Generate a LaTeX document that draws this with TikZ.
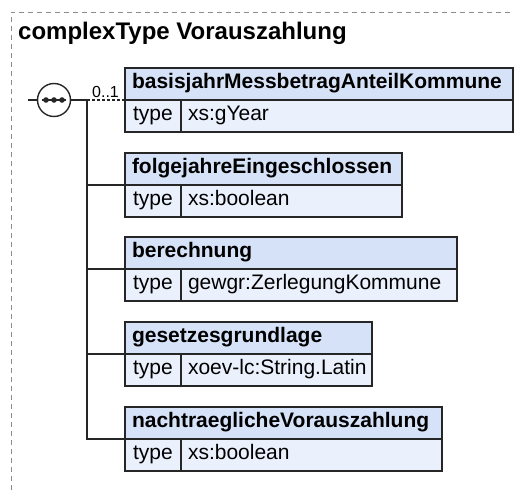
\documentclass[tikz,border=0pt]{standalone}
\usepackage{fontspec}
\setmainfont{Liberation Sans}
\usetikzlibrary{positioning}
\definecolor{headblue}{RGB}{214,226,248}
\definecolor{rowblue}{RGB}{234,240,252}
\tikzstyle{cell}=[draw=black!85,line width=1.4pt,minimum height=32pt,text height=14pt,text depth=5pt,inner xsep=7pt,inner ysep=0pt,outer sep=0pt,anchor=north west,font=\fontsize{21}{24}\selectfont]
\tikzstyle{head cell}=[cell,fill=headblue,font=\bfseries\fontsize{21}{24}\selectfont]
\tikzstyle{type cell}=[cell,fill=rowblue,minimum width=56pt]
\tikzstyle{value cell}=[cell,fill=rowblue]
\tikzstyle{edge}=[draw,line width=1.4pt,black!85]
\tikzstyle{frame}=[draw=black!45,line width=0.8pt,dash pattern=on 5pt off 4pt]

\begin{document}
\begin{tikzpicture}[x=1pt,y=-1pt]
    \useasboundingbox (0,0) rectangle (514,490);
    \path[frame] (11,490) -- (11,12) -- (514,12);
    \node[anchor=base west,inner sep=0pt,font=\bfseries\fontsize{24}{28}\selectfont] (title) at (18,39) {complexType Vorauszahlung};
    % element boxes
    \foreach \top/\w/\id/\name/\typ in {68/388/a/basisjahrMessbetragAnteilKommune/xs:gYear,
                                         153/277/b/folgejahreEingeschlossen/xs:boolean,
                                         237/332/c/berechnung/gewgr:ZerlegungKommune,
                                         322/247/d/gesetzesgrundlage/xoev-lc:String.Latin,
                                         407/317/e/nachtraeglicheVorauszahlung/xs:boolean}{
        \pgfmathsetmacro\hw{\w-14}
        \pgfmathsetmacro\vw{\w-56-14}
        \node[head cell] (h\id) at (125,\top) {\makebox[\hw pt][l]{\name}};
        \node[type cell] (t\id) at (h\id.south west) {type};
        \node[value cell] (v\id) at (t\id.north east) {\makebox[\vw pt][l]{\typ}};
    }
    % sequence symbol
    \coordinate (start) at (28,100);
    \node[circle,draw=black!85,fill=white,line width=1.4pt,minimum size=33pt,inner sep=0pt] (seq) at (54,100) {};
    \path[edge] ([xshift=-12pt]seq.center) -- ([xshift=12pt]seq.center);
    \foreach \dx in {-8,0,8}
        \fill[black!85] ([xshift=\dx pt]seq.center) circle (2.8pt);
    \coordinate (trunk) at (87,100);
    \path[edge] (start) -- (seq.west);
    \path[edge] (seq.east) -- (trunk);
    \path[edge,dash pattern=on 3pt off 2pt] (trunk) -- (ha.south west);
    \node[anchor=base,inner sep=0pt,font=\fontsize{16}{19}\selectfont] (card) at (105.5,97) {0..1};
    \foreach \id in {b,c,d}
        \path[edge] (trunk |- h\id.south west) -- (h\id.south west);
    \path[edge] (trunk) |- (he.south west);
\end{tikzpicture}
\end{document}
